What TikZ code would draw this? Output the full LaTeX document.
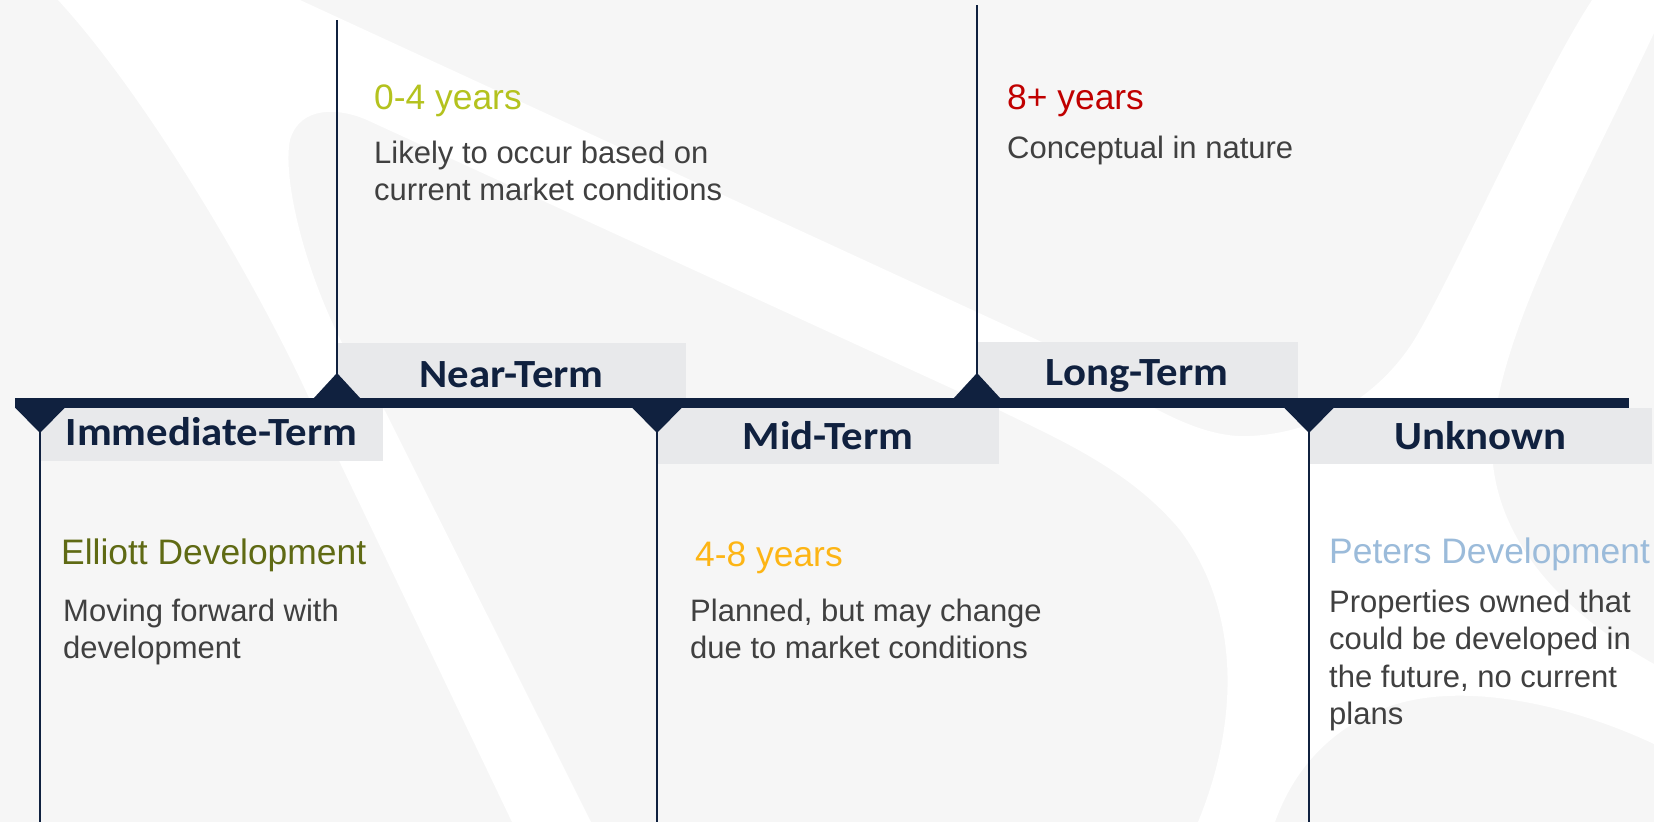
\documentclass[tikz,border=0pt]{standalone}
\usepackage{fontspec}
\setmainfont{Liberation Sans}
\newfontfamily\headfont[FakeStretch=1.07]{Carlito}

\definecolor{navy}{HTML}{10213F}
\definecolor{paper}{HTML}{F6F6F6}
\definecolor{boxgrey}{HTML}{E8E9EB}
\definecolor{bodygrey}{HTML}{404040}
\definecolor{limegreen}{HTML}{B4C21E}
\definecolor{darkred}{HTML}{C00000}
\definecolor{olive}{HTML}{5F6A14}
\definecolor{amber}{HTML}{FDB515}
\definecolor{skyblue}{HTML}{9BBBDA}

\newcommand{\bodylines}[1]{\parbox[t]{400pt}{\raggedright #1}}

\tikzset{
  hdrbox/.style={fill=boxgrey, draw=none, inner sep=0pt, anchor=north west},
  hdrlabel/.style={anchor=base, inner sep=0pt, text=navy,
    font=\headfont\bfseries\fontsize{40}{40}\selectfont},
  stem/.style={draw=navy, line width=2.5pt},
  timebar/.style={draw=navy, line width=10pt},
  marker/.style={fill=navy},
  yrs/.style={anchor=base west, inner sep=0pt, font=\fontsize{35.4}{36}\selectfont},
  body/.style={anchor=base west, inner sep=0pt, text=bodygrey,
    font=\fontsize{31}{37.5}\selectfont},
}

\begin{document}
\begin{tikzpicture}[x=1pt,y=-1pt]
  % canvas
  \fill[paper] (0,0) rectangle (1654,822);
  \useasboundingbox (0,0) rectangle (1654,822);

  % white watermark strokes
  \fill[white] (58,0) -- (300,0) -- (1044,343)
    .. controls (1100,370) and (1180,440) .. (1250,436)
    .. controls (1330,432) and (1390,385) .. (1420,330)
    .. controls (1460,260) and (1540,80) .. (1592,0)
    -- (1654,0) -- (1654,33)
    .. controls (1580,190) and (1500,330) .. (1492,440)
    .. controls (1490,520) and (1540,600) .. (1654,664)
    -- (1654,744)
    .. controls (1560,700) and (1450,680) .. (1380,710)
    .. controls (1320,735) and (1290,780) .. (1275,822)
    -- (1198,822)
    .. controls (1240,720) and (1240,610) .. (1180,530)
    .. controls (1130,470) and (1060,440) .. (1001,411)
    -- (367,120)
    .. controls (340,108) and (300,105) .. (290,140)
    .. controls (280,190) and (320,330) .. (385,411)
    -- (591,822) -- (512,822) -- (310,400)
    .. controls (260,290) and (150,100) .. (58,0) -- cycle;

  % header boxes
  \node[hdrbox, minimum width=343pt, minimum height=53pt] (immbox)  at (40,408)  {};
  \node[hdrbox, minimum width=349pt, minimum height=55pt] (nearbox) at (337,343) {};
  \node[hdrbox, minimum width=342pt, minimum height=56pt] (midbox)  at (657,408) {};
  \node[hdrbox, minimum width=321pt, minimum height=56pt] (longbox) at (977,342) {};
  \node[hdrbox, minimum width=343pt, minimum height=56pt] (unkbox)  at (1309,408) {};

  % marker points on the time bar and stem ends
  \coordinate (imm)  at (40,408);
  \coordinate (near) at (337,398);
  \coordinate (mid)  at (657,408);
  \coordinate (long) at (977,398);
  \coordinate (unk)  at (1309,408);
  \coordinate (immEnd)  at (40,822);
  \coordinate (nearEnd) at (337,20);
  \coordinate (midEnd)  at (657,822);
  \coordinate (longEnd) at (977,5);
  \coordinate (unkEnd)  at (1309,822);
  \coordinate (barL) at (15,403);
  \coordinate (barR) at (1629,403);

  % stems
  \draw[stem] (imm)  -- (immEnd);
  \draw[stem] (near) -- (nearEnd);
  \draw[stem] (mid)  -- (midEnd);
  \draw[stem] (long) -- (longEnd);
  \draw[stem] (unk)  -- (unkEnd);

  % time bar
  \draw[timebar] (barL) -- (barR);

  % markers: up for above-bar periods, down for below-bar periods
  \fill[marker] (near) ++(-23.5,0.5) -- ++(23.5,-25.5) -- ++(23.5,25.5) -- cycle;
  \fill[marker] (long) ++(-23.5,0.5) -- ++(23.5,-25.5) -- ++(23.5,25.5) -- cycle;
  \fill[marker] (imm)  ++(-25,-0.5) -- ++(25,25.5) -- ++(25,-25.5) -- cycle;
  \fill[marker] (mid)  ++(-25,-0.5) -- ++(25,25.5) -- ++(25,-25.5) -- cycle;
  \fill[marker] (unk)  ++(-25,-0.5) -- ++(25,25.5) -- ++(25,-25.5) -- cycle;

  % period titles
  \node[hdrlabel] (immT)  at (211.5,445) {Immediate-Term};
  \node[hdrlabel] (nearT) at (511.5,387) {Near-Term};
  \node[hdrlabel] (midT)  at (828,449)   {Mid-Term};
  \node[hdrlabel] (longT) at (1137,385)  {Long-Term};
  \node[hdrlabel] (unkT)  at (1480.5,449) {Unknown};

  % near-term text
  \node[yrs, text=limegreen] (nearY) at (374,109) {0-4 years};
  \node[body] (nearD) at (374,163)
    {\bodylines{Likely to occur based on\\current market conditions}};

  % long-term text
  \node[yrs, text=darkred] (longY) at (1007,109) {8+ years};
  \node[body] (longD) at (1007,158) {\bodylines{Conceptual in nature}};

  % immediate-term text
  \node[yrs, text=olive] (immY) at (61,564) {Elliott Development};
  \node[body] (immD) at (63,621)
    {\bodylines{Moving forward with\\development}};

  % mid-term text
  \node[yrs, text=amber] (midY) at (695,566) {4-8 years};
  \node[body] (midD) at (690,621)
    {\bodylines{Planned, but may change\\due to market conditions}};

  % unknown text
  \node[yrs, text=skyblue] (unkY) at (1329,563) {Peters Development};
  \node[body] (unkD) at (1329,612)
    {\bodylines{Properties owned that\\could be developed in\\the future, no current\\plans}};
\end{tikzpicture}
\end{document}
